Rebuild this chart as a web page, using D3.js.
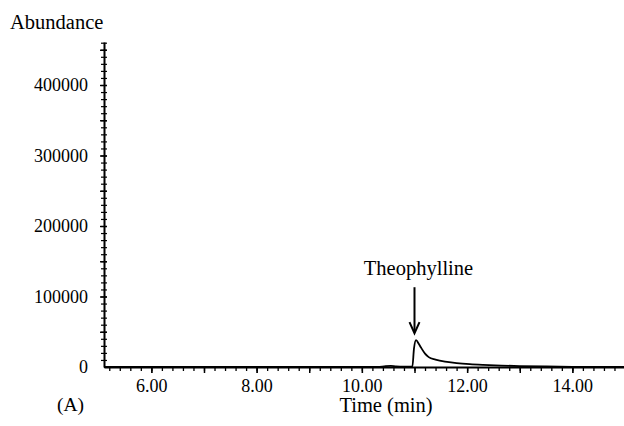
<!DOCTYPE html>
<html>
<head>
<meta charset="utf-8">
<script src="https://cdn.jsdelivr.net/npm/d3@7"></script>
<style>
  body { margin: 0; background: #fff; }
  svg { display: block; font-family: "Liberation Serif", "Times New Roman", serif; }
  .axis path, .axis line { stroke: #000; }
  .axis text { font-family: "Liberation Serif", serif; fill: #000; }
</style>
</head>
<body>
<div id="chart"></div>
<script>
// ============== Data ==============
const times = [5.1, 10.3, 10.45, 10.55, 10.65, 10.8, 10.96, 10.99, 11.03, 11.08, 11.12, 11.2, 11.27, 11.4, 11.58, 11.8, 12.05, 12.3, 12.65, 13.0, 13.5, 14.0, 15.0];
const abundance = [0, 0, 1200, 1500, 900, 600, 700, 26000, 38000, 33000, 28000, 19000, 14000, 10500, 7500, 5500, 4000, 3000, 2000, 1300, 700, 300, 0];
const xTicks = [6, 8, 10, 12, 14];
const yTicks = [0, 100000, 200000, 300000, 400000];
const peakLabel = {name: 'Theophylline', time: 11.0, value: 38000};

const width = 624, height = 426;
const margin = {top: 42, right: 0, bottom: 59, left: 104};

const svg = d3.select('#chart')
  .append('svg')
  .attr('width', width)
  .attr('height', height);

// ============== Scales ==============
const x = d3.scaleLinear()
  .domain([5.1, 15.0])
  .range([margin.left, width + 1]);

const y = d3.scaleLinear()
  .domain([0, 461000])
  .range([height - margin.bottom, margin.top]);

// ============== Minor ticks ==============
svg.append('g')
  .attr('class', 'axis')
  .attr('transform', `translate(0,${y(0)})`)
  .call(d3.axisBottom(x).tickValues(d3.range(5.2, 15.0, 0.2)).tickSize(4).tickFormat(''))
  .call(g => g.select('.domain').remove())
  .selectAll('line').attr('stroke-width', 1.3);

svg.append('g')
  .attr('class', 'axis')
  .attr('transform', `translate(0,${y(0)})`)
  .call(d3.axisBottom(x).tickValues(d3.range(6, 15, 1)).tickSize(6).tickFormat(''))
  .call(g => g.select('.domain').remove())
  .selectAll('line').attr('stroke-width', 1.5);

svg.append('g')
  .attr('class', 'axis')
  .attr('transform', `translate(${x(5.1)},0)`)
  .call(d3.axisLeft(y).tickValues(d3.range(10000, 461000, 10000)).tickSize(3).tickFormat(''))
  .call(g => g.select('.domain').remove())
  .selectAll('line').attr('x2', 3).attr('x1', -3).attr('stroke-width', 1.2);

svg.append('g')
  .attr('class', 'axis')
  .attr('transform', `translate(${x(5.1)},0)`)
  .call(d3.axisLeft(y).tickValues(d3.range(50000, 461000, 50000)).tickSize(4).tickFormat(''))
  .call(g => g.select('.domain').remove())
  .selectAll('line').attr('x2', 3).attr('x1', -4).attr('stroke-width', 1.4);

// ============== Main axes ==============
const xAxis = svg.append('g')
  .attr('class', 'axis')
  .attr('transform', `translate(0,${y(0)})`)
  .call(d3.axisBottom(x).tickValues(xTicks).tickSize(6).tickSizeOuter(0).tickPadding(6).tickFormat(d3.format('.2f')));
xAxis.select('.domain').attr('stroke-width', 2);
xAxis.selectAll('text').attr('font-size', 18);

const yAxis = svg.append('g')
  .attr('class', 'axis')
  .attr('transform', `translate(${x(5.1)},0)`)
  .call(d3.axisLeft(y).tickValues(yTicks).tickSize(0).tickSizeOuter(0).tickPadding(16).tickFormat(d3.format('d')));
yAxis.select('.domain').attr('stroke-width', 2);
yAxis.selectAll('text').attr('font-size', 18);

// ============== Trace ==============
const line = d3.line()
  .x(d => x(d[0]))
  .y(d => y(d[1]))
  .curve(d3.curveMonotoneX);

svg.append('path')
  .datum(d3.zip(times, abundance))
  .attr('d', line)
  .attr('fill', 'none')
  .attr('stroke', '#000')
  .attr('stroke-width', 1.8);

// ============== Annotation ==============
svg.append('line')
  .attr('x1', x(peakLabel.time))
  .attr('x2', x(peakLabel.time))
  .attr('y1', y(peakLabel.value) - 53)
  .attr('y2', y(peakLabel.value) - 8)
  .attr('stroke', '#000')
  .attr('stroke-width', 2);

svg.append('path')
  .attr('d', `M${x(peakLabel.time) - 5},${y(peakLabel.value) - 18} L${x(peakLabel.time)},${y(peakLabel.value) - 7} L${x(peakLabel.time) + 5},${y(peakLabel.value) - 18}`)
  .attr('fill', 'none')
  .attr('stroke', '#000')
  .attr('stroke-width', 2);

svg.append('text')
  .text(peakLabel.name)
  .attr('x', x(peakLabel.time) + 4)
  .attr('y', y(peakLabel.value) - 65)
  .attr('text-anchor', 'middle')
  .attr('font-size', 20.5);

// ============== Labels ==============
svg.append('text')
  .text('Abundance')
  .attr('x', 10)
  .attr('y', 29)
  .attr('font-size', 20.5);

svg.append('text')
  .text('Time (min)')
  .attr('x', 386)
  .attr('y', 412)
  .attr('text-anchor', 'middle')
  .attr('font-size', 20.5);

svg.append('text')
  .text('(A)')
  .attr('x', 57)
  .attr('y', 411)
  .attr('font-size', 19.5);
</script>
</body>
</html>
